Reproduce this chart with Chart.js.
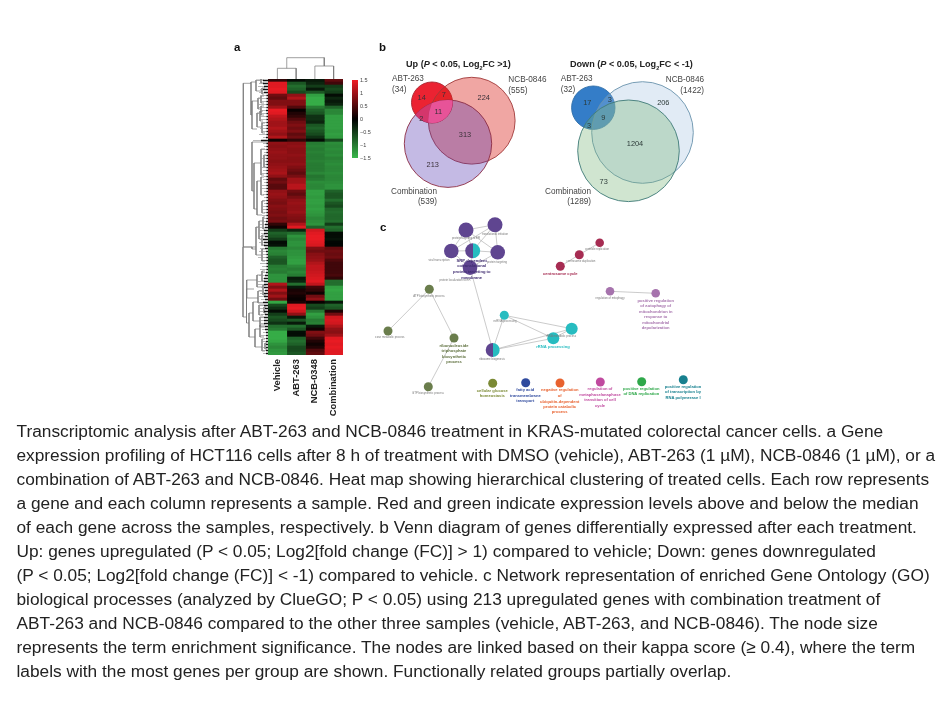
<!DOCTYPE html>
<html>
<head>
<meta charset="utf-8">
<title>Transcriptomic analysis</title>
<script src="https://cdn.jsdelivr.net/npm/chart.js@4"></script>
<style>
  html, body { margin: 0; padding: 0; background: #fff; width: 945px; height: 709px; overflow: hidden; }
  body { font-family: "Liberation Sans", Arial, sans-serif; position: relative; }
  canvas { position: absolute; }
  #figure { position: absolute; left: 0; top: 0; width: 945px; height: 415px; filter: blur(0.5px); }
  .panel { position: absolute; font-weight: bold; font-size: 11.5px; color: #111; }
  .vtitle { position: absolute; font-weight: bold; font-size: 9.1px; color: #222; white-space: nowrap; }
  .vtitle sub { font-size: 5.5px; line-height: 0; }
  #caption div { position: absolute; left: 16.5px; white-space: nowrap; font-size: 17.3px; line-height: 20px; color: #222; }
</style>
</head>
<body>
<div id="figure">
  <div class="panel" style="left:234px;top:41px">a</div>
  <div class="panel" style="left:379px;top:41px">b</div>
  <div class="panel" style="left:380px;top:221px">c</div>
  <div class="vtitle" style="left:406px;top:59px">Up (<i>P</i> &lt; 0.05, Log<sub>2</sub>FC &gt;1)</div>
  <div class="vtitle" style="left:570px;top:59px">Down (<i>P</i> &lt; 0.05, Log<sub>2</sub>FC &lt; -1)</div>
  <canvas id="rowDendro" width="28" height="276" style="left:240px;top:79px"></canvas>
  <canvas id="colDendro" width="75" height="24" style="left:268px;top:55px"></canvas>
  <canvas id="heatmap" width="75" height="350" style="left:268px;top:79px"></canvas>
  <canvas id="colorbar" width="34" height="90" style="left:352px;top:74px"></canvas>
  <canvas id="vennUp" width="185" height="180" style="left:375px;top:35px"></canvas>
  <canvas id="vennDown" width="185" height="180" style="left:540px;top:35px"></canvas>
  <canvas id="network" width="335" height="205" style="left:375px;top:210px"></canvas>
</div>
<div id="caption"></div>

<script>
// heat map values, one entry per row, top to bottom
const columnLabels = ['Vehicle', 'ABT-263', 'NCB-0348', 'Combination'];
const heatVehicle = [.3,1.4,1.4,1.45,1.4,.7,.6,.8,.8,1,1.45,1.4,1.2,1.1,1,1,1.1,1,.9,1.1,.1,.9,.85,.9,.95,.9,.9,.85,.9,.95,1,1.05,.9,.6,.7,.55,.55,.9,.95,.9,.8,.75,.85,.8,.75,.8,.7,.75,.3,.1,-.5,-.8,-.7,-.5,-.1,-.15,-1,-1.1,-1.05,-.8,-.7,-.7,-1,-1.05,-1,-1.2,-1.2,-1.2,1.1,.8,1.1,.8,1,.7,-1.35,-.6,-.4,-.1,-.5,-.7,-.6,-.4,-.9,-1,-1.4,-1.4,-1.4,-1.35,-1.2,-1.1,-1.2,-1.25];
const heatAbt = [-.1,-.7,-.9,-.8,-.6,.9,1.1,.8,.8,.5,.05,.2,.3,.5,.7,.8,.7,.8,.6,.7,.3,.85,.9,.85,.85,.9,.85,.85,.9,.8,.7,.6,.75,1,1,1.15,1.15,.7,.6,.75,.9,.95,.9,.9,.95,.85,.8,.75,1.1,1.4,-.3,-.9,-1.2,-1.1,-1.2,-1.2,-1.1,-1.2,-1.2,-1.25,-1.3,-1.3,-1.1,-1,-1.1,-1,-.2,-.3,-.9,-.2,.15,.2,.1,.05,.15,1.4,1.45,1.3,.9,-.2,-.7,-.2,-.9,-.7,-.1,-.1,-.8,-.9,-.8,-.6,-.6,-.7];
const heatNcb = [-.2,-.3,-.5,-.2,-.7,-1.3,-1.4,-1.4,-1.4,-1,-.8,-.7,-.4,-.4,-.3,-.7,-.8,-.7,-.6,-.4,-.1,-1,-1.05,-1,-1.05,-1,-1,-1.05,-1,-1,-1,-1.1,-.95,-1,-1.15,-1.1,-1.1,-1.3,-1.3,-1.25,-1.3,-1.3,-1.25,-1.3,-1.25,-1.2,-1.1,-1.15,-1.2,-.8,1.3,1.4,1.45,1.45,1.4,1.35,.8,.7,.85,.9,.95,1.1,1.2,1.2,1.25,1.3,1.35,1.4,1.2,.4,.3,.1,.7,.9,.05,-.6,-.5,-1,-1.3,-1.2,-1,-1.05,-.2,.1,.8,.7,.4,.2,.1,.2,.5,.6];
const heatCombo = [.6,.4,-.5,-.6,-.5,-.1,-.3,-.2,-.3,-.8,-1.1,-1.1,-1.3,-1.3,-1.3,-1.3,-1.3,-1.25,-1.3,-1.25,-.6,-1.15,-1.1,-1.15,-1.1,-1.15,-1.05,-1.1,-1.15,-1.1,-1.1,-1.15,-1.1,-1.1,-1.15,-1.2,-1.2,-.8,-.7,-.7,-.9,-.7,-.6,-.85,-.9,-.85,-.85,-.9,-.5,-.9,-.8,-.1,-.1,-.15,-.05,-.05,.6,.7,.65,.7,.5,.4,.4,.4,.4,.45,.3,-.9,-.9,-1.3,-1.35,-1.3,-1.3,-1.3,-.2,-.8,-.7,.2,.7,1.3,1.35,1.3,1.1,.9,.85,1,1.4,1.45,1.4,1.45,1.4,1.4];
const legendTicks = [1.5, 1, 0.5, 0, -0.5, -1, -1.5];

// row dendrogram: leaf height per row, dark tip per row, and clades as
// [height, top row pos, top child height, bottom row pos, bottom child height]
const rowLeafHeight = [11,9,10,8,9,8,10,7,9,11,8,10,8,9,7,5,8,6,9,5,15,5,4,6,4,5,7,4,5,6,5,7,4,5,4,6,8,4,5,4,6,4,5,7,4,6,5,6,9,11,9,7,10,8,9,7,8,9,7,10,7,8,6,8,6,9,7,11,10,7,9,8,9,7,11,9,8,10,7,9,8,9,7,6,5,7,4,6,4,5,7,5];
const rowTipHeight = [5,5,4,5,4,1.5,1.5,1.5,1.5,1.5,2,1.5,1.5,1.5,1.5,1.5,1.5,1.5,1.5,2,7,1.5,1.5,1.5,1.5,1.5,1.5,1.5,1.5,1.5,1.5,1.5,1.5,1.5,1.5,1.5,1.5,1.5,1.5,1.5,1.5,1.5,1.5,1.5,1.5,1.5,1.5,2,3,3,4,4,3,5,4,4,3,2,1.5,1.5,1.5,1.5,1.5,1.5,2,3,4,4,4,4,3,4,4,3,5,4,3,4,3,4,4,4,3,3,2,2,2,2,2,2,2,2];
const rowClades = [
  [24.7,4.3,17,168,16], [25,168,16,238,21.5],
  [17,3,12,36,16], [12,1,7,12,6], [7,0,4,4,4], [6,9,3,15,4],
  [16,22,10,50,11], [10,19,7,30,7], [7,17,4,24,4], [7,27,4,36,4], [11,34,8,48,6], [8,32,5,42,5], [6,44,3,54,3],
  [16,63,0,112,14], [14,84,7,130,11], [7,70,3,96,4], [4,76,2,88,2], [11,102,7,136,6], [7,98,4,116,4], [6,122,3,134,3],
  [16,168,12,170,12], [12,148,9,176,6], [9,142,5,160,6], [5,138,3,150,3], [6,156,3,166,3], [6,170,3,182,3],
  [21.5,210,14,244,19], [21.3,201,11,219,10], [11,196,6,208,5], [10,212,6,224,5], [6,192,3,202,3], [5,206,2,216,2],
  [19,234,15,258,13], [15,223,9,242,8], [13,250,8,268,6], [9,226,4,236,5], [8,238,4,248,3], [8,246,3,258,4], [6,260,3,272,3], [4,228,2,234,2], [3,264,1,270,1]
];
const colDendroX = [0.5, 0.5, 1.5, 1.5, null, 2.5, 2.5, 3.5, 3.5, null, 1, 1, 3, 3];
const colDendroY = [0, 10.7, 10.7, 0, null, 0, 13, 13, 0, null, 10.7, 21.3, 21.3, 13];

// venn diagrams: circle centre and radius, same order as the names
const vennUpX = [73, 96.7, 57];
const vennUpY = [108.7, 85.7, 67.5];
const vennUpR = [43.7, 43.4, 20.5];
const vennDownX = [88.5, 102.5, 53.3];
const vennDownY = [115.8, 97.5, 72.7];
const vennDownR = [50.8, 50.8, 21.7];
const upCountText = ['14', '7', '224', '11', '2', '313', '213'];
const upCountX = [46.7, 68.7, 108.7, 63.3, 46.3, 90, 57.7];
const upCountY = [62.7, 60, 63.3, 76.7, 84, 100, 130];
const downCountText = ['17', '3', '206', '9', '3', '1204', '73'];
const downCountX = [47.3, 69.7, 123.3, 63.3, 49, 95, 63.7];
const downCountY = [67.7, 65.3, 67.7, 82.7, 90.7, 109, 146.7];
const upNameText = ['ABT-263', '(34)', 'NCB-0846', '(555)', 'Combination'];
const upNameX = [17, 17, 133.3, 133.3, 16];
const upNameY = [44, 54.5, 45, 55.5, 157];
const upTotalText = ['(539)'];
const upTotalX = [62];
const upTotalY = [167];
const downNameText = ['ABT-263', '(32)', 'Combination'];
const downNameX = [20.7, 20.7, 5];
const downNameY = [44, 54.5, 157];
const downRightText = ['NCB-0846', '(1422)', '(1289)'];
const downRightX = [164, 164, 51];
const downRightY = [45, 55.5, 167];

// network nodes, the second colour marks a node shared by two groups
const purple = '#5f4590', teal = '#27bcc0', olive = '#6a7d4c', crimson = '#a62c52', orchid = '#a673ad';
const nodeX = [91, 120, 76.3, 122.7, 97.7, 95, 117.7, 129.3, 196.7, 178.3, 54.3, 13, 79, 53.3, 224.7, 204.3, 185.3, 235, 280.7, 117.7, 150.7, 185, 225.3, 266.7, 308.3];
const nodeY = [20, 14.7, 41, 42.3, 40.7, 57.7, 140, 105.3, 118.7, 128.3, 79.3, 121, 128, 176.7, 32.7, 44.7, 56.3, 81.3, 83.3, 173.3, 172.7, 173, 172, 171.7, 169.7];
const nodeR = [7.5, 7.5, 7.3, 7.3, 7.5, 7.3, 7, 4.5, 6, 6, 4.5, 4.5, 4.5, 4.5, 4.3, 4.5, 4.5, 4.3, 4.3, 4.5, 4.5, 4.5, 4.5, 4.5, 4.5];
const nodeColor = [purple, purple, purple, purple, purple, purple, purple, teal, teal, teal, olive, olive, olive, olive, crimson, crimson, crimson, orchid, orchid, '#7b8a35', '#2f4a9e', '#e8622f', '#c04a9f', '#2fa84a', '#17808f'];
const nodeColor2 = { 4: teal, 6: teal };
const edgeFrom = [0, 0, 0, 0, 1, 1, 1, 2, 3, 5, 5, 5, 5, 6, 6, 6, 7, 7, 8, 10, 10, 12, 14, 15, 17];
const edgeTo = [1, 2, 3, 4, 2, 3, 4, 4, 4, 2, 3, 4, 6, 7, 8, 9, 8, 9, 9, 11, 12, 13, 15, 16, 18];

// network text: group labels in bold, the small ones are barely legible in the picture, best reading
const termText = ['SRP-dependent', 'cotranslational', 'protein targeting to', 'membrane', 'ribonucleoside', 'triphosphate', 'biosynthetic', 'process', 'cellular glucose', 'homeostasis', 'fatty acid', 'transmembrane', 'transport', 'negative regulation', 'of', 'ubiquitin-dependent', 'protein catabolic', 'process', 'regulation of', 'metaphase/anaphase', 'transition of cell', 'cycle', 'positive regulation', 'of DNA replication', 'positive regulation', 'of transcription by', 'RNA polymerase I', 'centrosome cycle', 'positive regulation', 'of autophagy of', 'mitochondrion in', 'response to', 'mitochondrial', 'depolarization', 'rRNA processing'];
const termX = [96.7, 96.7, 96.7, 96.7, 79, 79, 79, 79, 117.3, 117.3, 150.3, 150.3, 150.3, 184.7, 184.7, 184.7, 184.7, 184.7, 225, 225, 225, 225, 266.3, 266.3, 308, 308, 308, 185.3, 280.7, 280.7, 280.7, 280.7, 280.7, 280.7, 178];
const termY = [50.7, 56.3, 62, 67.7, 135.7, 141, 146.7, 152, 180.7, 186.3, 180.3, 186, 191.3, 180.3, 185.7, 191.7, 197, 202, 179.3, 185, 190.3, 196, 179, 184.3, 176.7, 182.3, 188, 64, 90.7, 96.3, 102, 107.3, 113, 118.3, 137];
const termColor = ['#3f2c70', '#3f2c70', '#3f2c70', '#3f2c70', '#5d6f3c', '#5d6f3c', '#5d6f3c', '#5d6f3c', '#7b8a35', '#7b8a35', '#2f4a9e', '#2f4a9e', '#2f4a9e', '#e8622f', '#e8622f', '#e8622f', '#e8622f', '#e8622f', '#c04a9f', '#c04a9f', '#c04a9f', '#c04a9f', '#2fa84a', '#2fa84a', '#17808f', '#17808f', '#17808f', crimson, orchid, orchid, orchid, orchid, orchid, orchid, teal];
const smallText = ['protein targeting to ER', 'translational initiation', 'viral transcription', 'protein targeting', 'protein localization to ER', 'ATP biosynthetic process', 'glucose metabolic process', 'GTP biosynthetic process', 'ribosome biogenesis', 'ncRNA processing', 'rRNA metabolic process', 'centriole replication', 'centrosome duplication', 'regulation of mitophagy'];
const smallX = [91, 120, 64, 122, 80, 54, 13, 53, 117, 130, 186, 222, 206, 235];
const smallY = [28.5, 24, 50, 52, 70, 86, 127.5, 183, 149, 111, 126, 39, 51, 88];

const captionLines = [
  'Transcriptomic analysis after ABT-263 and NCB-0846 treatment in KRAS-mutated colorectal cancer cells. a Gene',
  'expression profiling of HCT116 cells after 8 h of treatment with DMSO (vehicle), ABT-263 (1 µM), NCB-0846 (1 µM), or a',
  'combination of ABT-263 and NCB-0846. Heat map showing hierarchical clustering of treated cells. Each row represents',
  'a gene and each column represents a sample. Red and green indicate expression levels above and below the median',
  'of each gene across the samples, respectively. b Venn diagram of genes differentially expressed after each treatment.',
  'Up: genes upregulated (P < 0.05; Log2[fold change (FC)] > 1) compared to vehicle; Down: genes downregulated',
  '(P < 0.05; Log2[fold change (FC)] < -1) compared to vehicle. c Network representation of enriched Gene Ontology (GO)',
  'biological processes (analyzed by ClueGO; P < 0.05) using 213 upregulated genes with combination treatment of',
  'ABT-263 and NCB-0846 compared to the other three samples (vehicle, ABT-263, and NCB-0846). The node size',
  'represents the term enrichment significance. The nodes are linked based on their kappa score (≥ 0.4), where the term',
  'labels with the most genes per group are shown. Functionally related groups partially overlap.'
];

const FONT = '"Liberation Sans", Arial, sans-serif';
Chart.defaults.animation = false;
Chart.defaults.responsive = false;
Chart.defaults.font.family = FONT;
Chart.defaults.plugins.legend.display = false;
Chart.defaults.plugins.tooltip.enabled = false;

// caption
captionLines.forEach((line, i) => {
  const d = document.createElement('div');
  d.textContent = line;
  d.style.top = (420.5 + i * 24) + 'px';
  document.getElementById('caption').appendChild(d);
});

function heatColor(v) { // black at 0, red above, green below
  const t = Math.min(Math.abs(v) / 1.5, 1);
  return v >= 0
    ? `rgb(${Math.round(240 * t)},${Math.round(28 * t)},${Math.round(36 * t)})`
    : `rgb(${Math.round(58 * t)},${Math.round(184 * t)},${Math.round(76 * t)})`;
}

// draws text at data positions, so it goes through the chart scales
function textPlugin(groups) {
  return {
    id: 'textMarks',
    afterDatasetsDraw(chart) {
      const c = chart.ctx;
      c.save();
      c.textBaseline = 'middle';
      groups.forEach(g => {
        c.font = g.font;
        c.textAlign = g.align || 'center';
        g.text.forEach((t, i) => {
          c.fillStyle = Array.isArray(g.color) ? g.color[i] : g.color;
          c.fillText(t, chart.scales.x.getPixelForValue(g.x[i]), chart.scales.y.getPixelForValue(g.y[i]));
        });
      });
      c.restore();
    }
  };
}

const hiddenAxis = (min, max, reverse) => ({ type: 'linear', display: false, min, max, reverse: !!reverse });

// heat map: one stacked bar per row, one dataset per column
new Chart(document.getElementById('heatmap'), {
  type: 'bar',
  data: {
    labels: heatVehicle.map((v, i) => 'gene' + i),
    datasets: [heatVehicle, heatAbt, heatNcb, heatCombo].map((col, i) => ({
      label: columnLabels[i],
      data: col.map(() => 1),
      backgroundColor: col.map(heatColor),
      borderWidth: 0,
      barPercentage: 1,
      categoryPercentage: 1
    }))
  },
  options: {
    indexAxis: 'y',
    layout: { padding: 0, autoPadding: false },
    scales: {
      y: { stacked: true, display: false },
      x: {
        stacked: true, min: 0, max: 4,
        grid: { display: false, drawTicks: false }, border: { display: false },
        afterBuildTicks: s => { s.ticks = columnLabels.map((n, i) => ({ value: i + 0.5 })); },
        afterFit: s => { s.height = 74; s.paddingLeft = 0; s.paddingRight = 0; },
        ticks: {
          autoSkip: false, minRotation: 90, maxRotation: 90, padding: 4,
          color: '#222', font: { size: 9.4, weight: 'bold' },
          callback: v => columnLabels[Math.floor(v)]
        }
      }
    }
  }
});

// row dendrogram
const rowPos = i => i * 3 + 1.5;
const leafPts = [];
const tipPts = [];
rowLeafHeight.forEach((h, i) => {
  leafPts.push({ x: 0, y: rowPos(i) }, { x: h, y: rowPos(i) }, { x: NaN, y: NaN });
  tipPts.push({ x: 0, y: rowPos(i) }, { x: rowTipHeight[i], y: rowPos(i) }, { x: NaN, y: NaN });
});
const cladePts = [];
rowClades.forEach(c => {
  cladePts.push({ x: c[2], y: c[1] }, { x: c[0], y: c[1] }, { x: c[0], y: c[3] }, { x: c[4], y: c[3] }, { x: NaN, y: NaN });
});
new Chart(document.getElementById('rowDendro'), {
  type: 'scatter',
  data: {
    datasets: [
      { data: tipPts, showLine: true, pointRadius: 0, borderColor: '#111', borderWidth: 1.4 },
      { data: leafPts, showLine: true, pointRadius: 0, borderColor: '#999', borderWidth: 0.7 },
      { data: cladePts, showLine: true, pointRadius: 0, borderColor: '#7a7a7a', borderWidth: 0.7 }
    ]
  },
  options: { scales: { x: hiddenAxis(0, 28, true), y: hiddenAxis(0, 276, true) } }
});

// column dendrogram
new Chart(document.getElementById('colDendro'), {
  type: 'scatter',
  data: {
    datasets: [{
      data: colDendroX.map((x, i) => x === null ? { x: NaN, y: NaN } : { x, y: colDendroY[i] }),
      showLine: true, pointRadius: 0, borderColor: '#777', borderWidth: 0.7
    }]
  },
  options: { scales: { x: hiddenAxis(0, 4), y: hiddenAxis(0, 24) } }
});

// colour key
new Chart(document.getElementById('colorbar'), {
  type: 'bar',
  data: {
    labels: ['key'],
    datasets: [{
      data: [[-1.5, 1.5]],
      borderWidth: 0,
      barPercentage: 1, categoryPercentage: 1,
      backgroundColor: c => {
        const a = c.chart.chartArea;
        if (!a) return '#000';
        const g = c.chart.ctx.createLinearGradient(0, a.top, 0, a.bottom);
        g.addColorStop(0, heatColor(1.5)); g.addColorStop(0.5, '#000'); g.addColorStop(1, heatColor(-1.5));
        return g;
      }
    }]
  },
  options: {
    layout: { padding: { top: 6, bottom: 6 }, autoPadding: false },
    scales: {
      x: { display: false },
      y: {
        position: 'right', min: -1.5, max: 1.5,
        grid: { display: false, drawTicks: false }, border: { display: false },
        afterBuildTicks: s => { s.ticks = legendTicks.map(value => ({ value })); },
        afterFit: s => { s.width = 28; },
        ticks: { padding: 2, autoSkip: false, color: '#444', font: { size: 5.5 }, callback: v => String(v).replace('-', '\u2212') }
      }
    }
  }
});

// venn diagrams, first dataset ends up on top so the small circle goes last
function vennChart(id, xs, ys, rs, fills, strokes, extra) {
  new Chart(document.getElementById(id), {
    type: 'bubble',
    data: {
      datasets: xs.map((x, i) => ({
        data: [{ x, y: ys[i], r: rs[i] }],
        backgroundColor: fills[i], borderColor: strokes[i], borderWidth: 0.9
      }))
    },
    options: { clip: false, layout: { autoPadding: false }, scales: { x: hiddenAxis(0, 185), y: hiddenAxis(0, 180, true) } },
    plugins: extra
  });
}

// the triple overlap in the up diagram is brighter than plain blending gets
const pinkOverlap = {
  id: 'pinkOverlap',
  afterDatasetsDraw(chart) {
    const c = chart.ctx;
    const circle = i => chart.getDatasetMeta(i).data[0];
    const fill = (idx, color) => {
      c.save();
      idx.forEach(i => {
        const p = circle(i);
        c.beginPath(); c.arc(p.x, p.y, vennUpR[i], 0, Math.PI * 2); c.clip();
      });
      c.fillStyle = color;
      c.fillRect(0, 0, chart.width, chart.height);
      c.restore();
    };
    fill([0, 2], 'rgba(222,60,115,0.75)');
    fill([0, 1, 2], 'rgba(232,85,155,0.95)');
  }
};

const vennFont = '8.2px ' + FONT, countFont = '7.4px ' + FONT;
vennChart('vennUp', vennUpX, vennUpY, vennUpR,
  ['rgba(70,40,170,0.32)', 'rgba(217,33,24,0.4)', 'rgb(235,35,50)'],
  ['#8c2c44', '#a03a3a', '#a8222e'],
  [pinkOverlap, textPlugin([
    { text: upCountText, x: upCountX, y: upCountY, font: countFont, color: '#3a3038' },
    { text: upNameText, x: upNameX, y: upNameY, font: vennFont, color: '#444', align: 'left' },
    { text: upTotalText, x: upTotalX, y: upTotalY, font: vennFont, color: '#444', align: 'right' }
  ])]);
vennChart('vennDown', vennDownX, vennDownY, vennDownR,
  ['rgba(120,180,120,0.35)', 'rgba(155,188,222,0.3)', 'rgb(52,125,200)'],
  ['#3f7a78', '#6a93ad', '#2f6ea8'],
  [textPlugin([
    { text: downCountText, x: downCountX, y: downCountY, font: countFont, color: '#2c3a38' },
    { text: downNameText, x: downNameX, y: downNameY, font: vennFont, color: '#444', align: 'left' },
    { text: downRightText, x: downRightX, y: downRightY, font: vennFont, color: '#444', align: 'right' }
  ])]);

// network
const edgeSets = edgeFrom.map((a, i) => ({
  type: 'scatter',
  data: [{ x: nodeX[a], y: nodeY[a] }, { x: nodeX[edgeTo[i]], y: nodeY[edgeTo[i]] }],
  showLine: true, pointRadius: 0, borderColor: '#b5b5b5', borderWidth: 0.7, order: 2
}));
new Chart(document.getElementById('network'), {
  data: {
    datasets: [{
      type: 'bubble',
      data: nodeX.map((x, i) => ({ x, y: nodeY[i], r: nodeR[i] })),
      borderWidth: 0, order: 1,
      backgroundColor: c => {
        const i = c.dataIndex;
        const px = c.chart.scales.x.getPixelForValue(nodeX[i]);
        if (!nodeColor2[i] || !isFinite(px)) return nodeColor[i];
        const g = c.chart.ctx.createLinearGradient(px - nodeR[i], 0, px + nodeR[i], 0);
        g.addColorStop(0, nodeColor[i]); g.addColorStop(0.5, nodeColor[i]);
        g.addColorStop(0.5, nodeColor2[i]); g.addColorStop(1, nodeColor2[i]);
        return g;
      }
    }].concat(edgeSets)
  },
  options: { clip: false, layout: { autoPadding: false }, scales: { x: hiddenAxis(0, 335), y: hiddenAxis(0, 205, true) } },
  plugins: [textPlugin([
    { text: smallText, x: smallX, y: smallY, font: '2.8px ' + FONT, color: '#777' },
    { text: termText, x: termX, y: termY, font: 'bold 4.1px ' + FONT, color: termColor }
  ])]
});
</script>
</body>
</html>
